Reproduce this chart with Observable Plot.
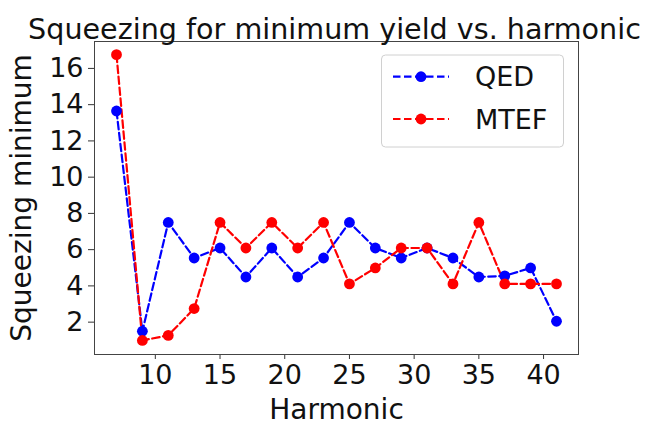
<!DOCTYPE html>
<html>
<head>
<meta charset="utf-8">
<script src="https://cdn.jsdelivr.net/npm/d3@7"></script>
<script src="https://cdn.jsdelivr.net/npm/@observablehq/plot@0.6"></script>
<style>
  html, body { margin: 0; padding: 0; background: #fff; }
  svg { display: block; }
</style>
</head>
<body>
<div id="chart"></div>
<script>
const harmonics = [7, 9, 11, 13, 15, 17, 19, 21, 23, 25, 27, 29, 31, 33, 35, 37, 39, 41];
const qed  = [13.65, 1.5, 7.5, 5.54, 6.09, 4.49, 6.09, 4.49, 5.54, 7.5, 6.09, 5.54, 6.09, 5.54, 4.49, 4.55, 4.99, 2.05];
const mtef = [16.76, 0.99, 1.27, 2.75, 7.5, 6.09, 7.5, 6.09, 7.5, 4.11, 4.99, 6.09, 6.09, 4.11, 7.5, 4.11, 4.11, 4.11];
const seriesNames = ["QED", "MTEF"];
const seriesColors = ["#0000ff", "#ff0000"];
const xTicks = [10, 15, 20, 25, 30, 35, 40];
const yTicks = [2, 4, 6, 8, 10, 12, 14, 16];
const titleText = "Squeezing for minimum yield vs. harmonic";
const xLabel = "Harmonic";
const yLabel = "Squeezing minimum";

const rows = [];
harmonics.forEach((h, i) => {
  rows.push({h, v: qed[i], s: seriesNames[0]});
});
harmonics.forEach((h, i) => {
  rows.push({h, v: mtef[i], s: seriesNames[1]});
});

const font = "DejaVu Sans, sans-serif";
const plot = Plot.plot({
  width: 648,
  height: 424,
  marginLeft: 94,
  marginRight: 70,
  marginTop: 41,
  marginBottom: 70,
  style: {fontFamily: font, fontSize: "27px", color: "#111", background: "#fff"},
  x: {domain: [5.3, 42.7]},
  y: {domain: [0.215, 17.485]},
  color: {domain: seriesNames, range: seriesColors},
  marks: [
    Plot.axisX({ticks: xTicks, tickSize: 5, tickPadding: 5, label: null, fontSize: 27, stroke: "#333"}),
    Plot.axisY({ticks: yTicks, tickSize: 6, tickPadding: 5, label: null, fontSize: 27, stroke: "#333"}),
    Plot.line(rows, {x: "h", y: "v", z: "s", stroke: "s", strokeWidth: 2.2, strokeDasharray: "7.5,3.5"}),
    Plot.dot(rows, {x: "h", y: "v", fill: "s", r: 5.4}),
    Plot.frame({stroke: "#444", strokeWidth: 1}),
    Plot.text([titleText], {frameAnchor: "top", dy: -23, dx: -2, fontSize: 28.6, fill: "#111"}),
    Plot.text([xLabel], {frameAnchor: "bottom", dy: 64, fontSize: 28, fill: "#111"}),
    Plot.text([yLabel], {frameAnchor: "left", dx: -72, rotate: -90, textAnchor: "middle", fontSize: 28, fill: "#111"})
  ]
});
document.getElementById("chart").appendChild(plot);

// legend
const svg = d3.select(plot);
const lg = svg.append("g").attr("font-family", font);
lg.append("rect").attr("x", 381.5).attr("y", 55).attr("width", 182).attr("height", 92)
  .attr("rx", 4).attr("fill", "#fff").attr("fill-opacity", 0.8).attr("stroke", "#d0d0d0");
seriesNames.forEach((name, i) => {
  const cy = 76.7 + i * 42.3;
  lg.append("line").attr("x1", 393).attr("x2", 449).attr("y1", cy).attr("y2", cy)
    .attr("stroke", seriesColors[i]).attr("stroke-width", 2.2).attr("stroke-dasharray", "7.5,3.5");
  lg.append("circle").attr("cx", 421).attr("cy", cy).attr("r", 5.4).attr("fill", seriesColors[i]);
  lg.append("text").attr("x", 475).attr("y", cy).attr("dy", "0.36em")
    .attr("text-anchor", "start").attr("font-size", 27).attr("fill", "#111").text(name);
});
</script>
</body>
</html>
